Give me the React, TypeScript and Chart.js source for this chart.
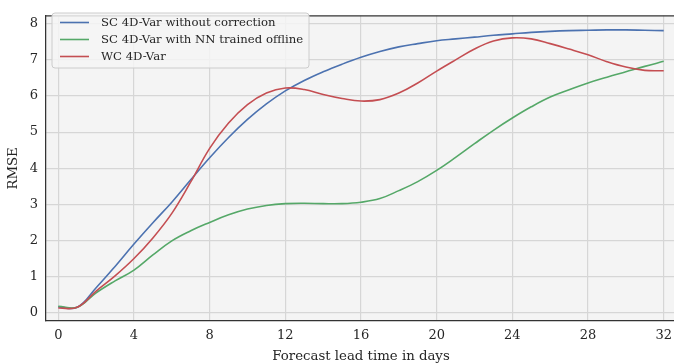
import React, { useEffect, useRef } from "react";
import { Chart, registerables } from "chart.js";

Chart.register(...registerables);

const days = [0, 1, 2, 3, 4, 5, 6, 7, 8, 9, 10, 11, 12, 13, 14, 15, 16, 17, 18, 19, 20, 21, 22, 23, 24, 25, 26, 27, 28, 29, 30, 31, 32];

const scNoCorrection = [0.16, 0.15, 0.69, 1.28, 1.9, 2.49, 3.06, 3.68, 4.29, 4.85, 5.35, 5.78, 6.14, 6.43, 6.67, 6.88, 7.07, 7.23, 7.36, 7.45, 7.53, 7.58, 7.63, 7.68, 7.72, 7.76, 7.79, 7.81, 7.82, 7.83, 7.83, 7.82, 7.81];
const scNNOffline = [0.18, 0.15, 0.55, 0.88, 1.18, 1.6, 1.99, 2.27, 2.5, 2.71, 2.87, 2.97, 3.02, 3.03, 3.02, 3.02, 3.06, 3.16, 3.38, 3.63, 3.94, 4.3, 4.68, 5.05, 5.39, 5.7, 5.97, 6.17, 6.36, 6.52, 6.67, 6.82, 6.96];
const wc4DVar = [0.13, 0.15, 0.6, 1.02, 1.5, 2.07, 2.75, 3.62, 4.55, 5.25, 5.76, 6.08, 6.22, 6.18, 6.04, 5.93, 5.86, 5.9, 6.08, 6.36, 6.69, 7.0, 7.3, 7.52, 7.61, 7.58, 7.45, 7.3, 7.14, 6.95, 6.8, 6.71, 6.7];

const seriesLabels = ["SC 4D-Var without correction", "SC 4D-Var with NN trained offline", "WC 4D-Var"];
const seriesColors = ["#4c72b0", "#55a868", "#c44e52"];

const xTicks = [0, 4, 8, 12, 16, 20, 24, 28, 32];
const yTicks = [0, 1, 2, 3, 4, 5, 6, 7, 8];

const FONT = "'DejaVu Serif', serif";
const TEXT = "#262626";

export default function App() {
  const ref = useRef<HTMLCanvasElement | null>(null);

  useEffect(() => {
    const canvas = ref.current;
    if (!canvas) return;

    const bgPlugin = {
      id: "bgPlugin",
      beforeDraw(chart: any) {
        const { ctx, chartArea: a } = chart;
        ctx.save();
        ctx.fillStyle = "#f4f4f4";
        ctx.fillRect(a.left, a.top, a.right - a.left, a.bottom - a.top);
        ctx.restore();
      },
      afterDraw(chart: any) {
        const { ctx, chartArea: a } = chart;
        ctx.save();
        ctx.strokeStyle = "#333333";
        ctx.lineWidth = 1.25;
        ctx.beginPath();
        ctx.moveTo(a.left, a.top);
        ctx.lineTo(a.right, a.top);
        ctx.stroke();
        // legend
        const lx = 52, ly = 13, lw = 257, lh = 55, r = 3;
        ctx.beginPath();
        ctx.moveTo(lx + r, ly);
        ctx.lineTo(lx + lw - r, ly);
        ctx.quadraticCurveTo(lx + lw, ly, lx + lw, ly + r);
        ctx.lineTo(lx + lw, ly + lh - r);
        ctx.quadraticCurveTo(lx + lw, ly + lh, lx + lw - r, ly + lh);
        ctx.lineTo(lx + r, ly + lh);
        ctx.quadraticCurveTo(lx, ly + lh, lx, ly + lh - r);
        ctx.lineTo(lx, ly + r);
        ctx.quadraticCurveTo(lx, ly, lx + r, ly);
        ctx.closePath();
        ctx.fillStyle = "rgba(245,245,245,0.85)";
        ctx.fill();
        ctx.strokeStyle = "#cccccc";
        ctx.lineWidth = 1;
        ctx.stroke();
        ctx.font = "11.7px " + FONT;
        ctx.textBaseline = "middle";
        ctx.fillStyle = TEXT;
        seriesLabels.forEach((lab, i) => {
          const y = 22.5 + i * 17;
          ctx.strokeStyle = seriesColors[i];
          ctx.lineWidth = 1.6;
          ctx.beginPath();
          ctx.moveTo(60, y);
          ctx.lineTo(89, y);
          ctx.stroke();
          ctx.fillText(lab, 101, y + 0.5);
        });
        ctx.restore();
      },
    };

    const chart = new Chart(canvas, {
      type: "line",
      data: {
        datasets: [scNoCorrection, scNNOffline, wc4DVar].map((vals, i) => ({
          label: seriesLabels[i],
          data: vals.map((v, j) => ({ x: days[j], y: v })),
          borderColor: seriesColors[i],
          backgroundColor: seriesColors[i],
          borderWidth: 1.6,
          pointRadius: 0,
          tension: 0.4,
          fill: false,
          order: 3 - i,
        })),
      },
      options: {
        animation: false,
        responsive: false,
        maintainAspectRatio: false,
        layout: { padding: { left: 0, right: 24, top: 6, bottom: 0 } },
        plugins: { legend: { display: false }, tooltip: { enabled: false } },
        scales: {
          x: {
            type: "linear",
            min: -0.65,
            max: 32.65,
            afterBuildTicks: (s: any) => {
              s.ticks = xTicks.map((v) => ({ value: v }));
            },
            afterFit: (s: any) => {
              s.height = 380 - 321;
            },
            grid: { color: "#d6d6d6", lineWidth: 1.2, drawTicks: false },
            border: { display: true, color: "#333333", width: 1.25 },
            ticks: { color: TEXT, font: { family: FONT, size: 13 }, padding: 7, maxRotation: 0 },
            title: {
              display: true,
              text: "Forecast lead time in days",
              color: TEXT,
              font: { family: FONT, size: 13.3 },
              padding: { top: 0, bottom: 15 },
            },
          },
          y: {
            type: "linear",
            min: -0.23,
            max: 8.22,
            afterBuildTicks: (s: any) => {
              s.ticks = yTicks.map((v) => ({ value: v }));
            },
            afterFit: (s: any) => {
              s.width = 46;
            },
            grid: { color: "#d6d6d6", lineWidth: 1.2, drawTicks: false },
            border: { display: true, color: "#333333", width: 1.25 },
            ticks: { color: TEXT, font: { family: FONT, size: 13 }, padding: 8 },
            title: {
              display: true,
              text: "RMSE",
              color: TEXT,
              font: { family: FONT, size: 13.3 },
              padding: { top: 6, bottom: 0 },
            },
          },
        },
      },
      plugins: [bgPlugin],
    });

    return () => chart.destroy();
  }, []);

  return (
    <div style={{ position: "fixed", left: 0, top: 0, width: 674, height: 363, overflow: "hidden", background: "#fff" }}>
      <canvas ref={ref} width={700} height={380} style={{ display: "block", width: 700, height: 380 }} />
    </div>
  );
}
